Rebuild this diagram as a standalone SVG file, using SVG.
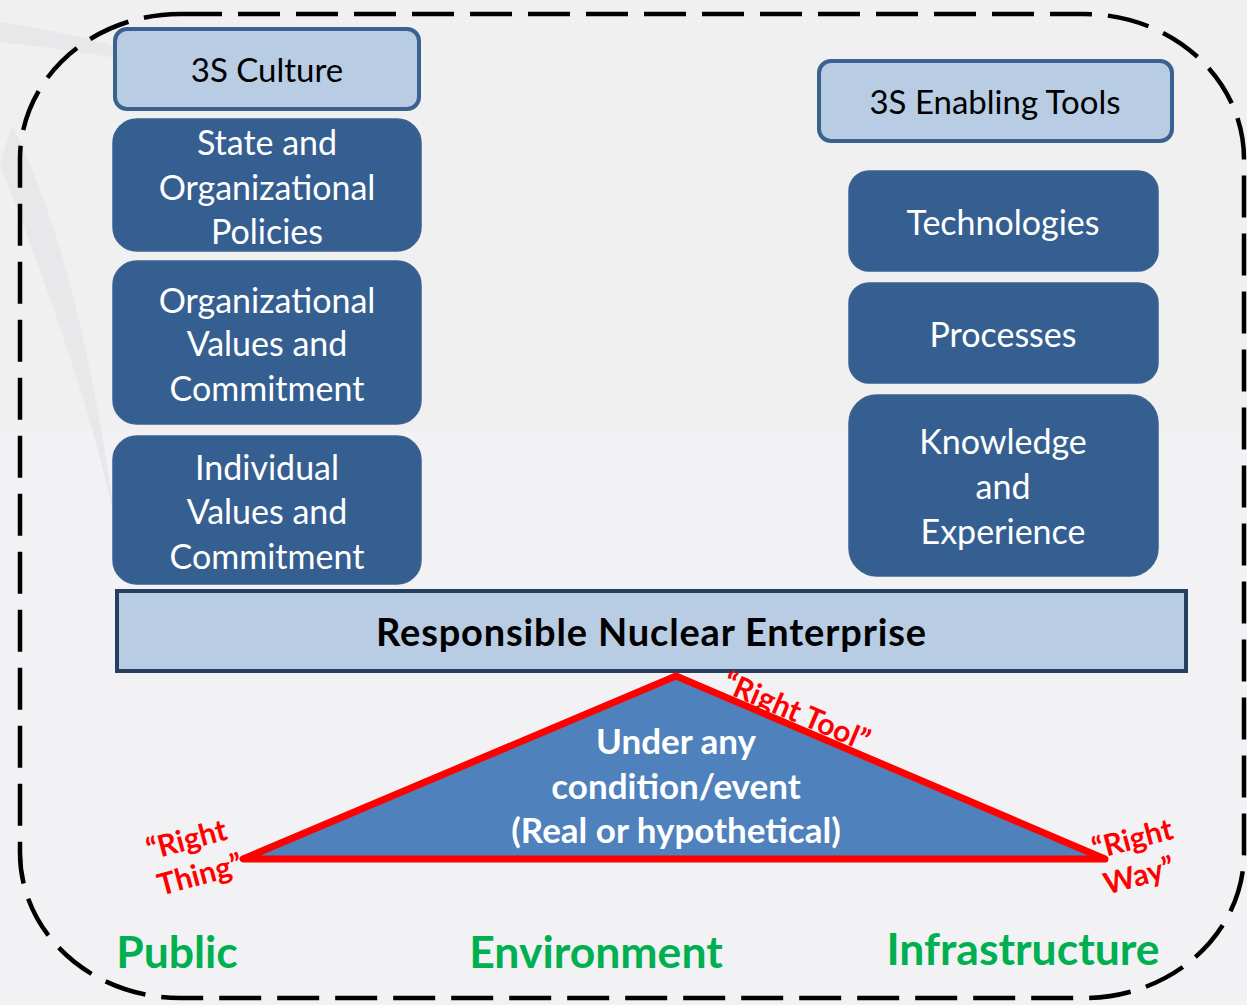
<svg xmlns="http://www.w3.org/2000/svg" width="1247" height="1005" viewBox="0 0 1247 1005">
<defs>
<style>
.t{font-family:Lato,"Open Sans","Liberation Sans",sans-serif;text-anchor:middle;dominant-baseline:central}
.lt{fill:#b8cce4;stroke:#3a6190;stroke-width:4}
.dk{fill:#365f91;stroke:#3a6190;stroke-width:1.5}
.w{fill:#fff;font-size:34px}
.b{fill:#000;font-size:33px}
.tw{fill:#fff;font-size:35px;font-weight:bold}
.red{fill:#ff0000;font-size:30px;font-weight:bold}
.grn{fill:#00b050;font-size:44.5px;font-weight:bold}
</style>
</defs>
<rect width="1247" height="1005" fill="#f0f0f0"/>
<rect y="430" width="1247" height="575" fill="#f2f2f4"/>
<path d="M0 22 Q120 40 190 75 Q140 58 0 42 Z" fill="#e8e8ea"/>
<path d="M12 125 Q80 260 115 520 Q85 380 0 165 Z" fill="#e8e8ea"/>
<rect x="20" y="14" width="1224" height="984" rx="160" ry="145" fill="none" stroke="#000" stroke-width="4.5" stroke-dasharray="42 16"/>
<g id="culture"><rect class="lt" x="115" y="29" width="304" height="80" rx="12"/><text class="t b" x="267" y="69">3S Culture</text></g>
<g id="state"><rect class="dk" x="113" y="119" width="308" height="132" rx="24"/><text class="t w" x="267" y="141">State and</text><text class="t w" x="267" y="186">Organizational</text><text class="t w" x="267" y="230">Policies</text></g>
<g id="orgvalues"><rect class="dk" x="113" y="261" width="308" height="163" rx="24"/><text class="t w" x="267" y="299">Organizational</text><text class="t w" x="267" y="342">Values and</text><text class="t w" x="267" y="387">Commitment</text></g>
<g id="indvalues"><rect class="dk" x="113" y="436" width="308" height="148" rx="24"/><text class="t w" x="267" y="466">Individual</text><text class="t w" x="267" y="510">Values and</text><text class="t w" x="267" y="555">Commitment</text></g>
<g id="tools"><rect class="lt" x="819" y="61" width="353" height="80" rx="12"/><text class="t b" x="995" y="101" font-size="34">3S Enabling Tools</text></g>
<g id="tech"><rect class="dk" x="849" y="171" width="309" height="100" rx="20"/><text class="t w" x="1003" y="221">Technologies</text></g>
<g id="proc"><rect class="dk" x="849" y="283" width="309" height="100" rx="20"/><text class="t w" x="1003" y="333">Processes</text></g>
<g id="know"><rect class="dk" x="849" y="395" width="309" height="181" rx="28"/><text class="t w" x="1003" y="440">Knowledge</text><text class="t w" x="1003" y="485">and</text><text class="t w" x="1003" y="530">Experience</text></g>
<g id="rne"><rect x="117" y="591" width="1069" height="80" fill="#b8cce4" stroke="#243f60" stroke-width="4"/><text class="t" x="651" y="631" font-size="38" font-weight="bold" textLength="550" lengthAdjust="spacing">Responsible Nuclear Enterprise</text></g>
<g id="triangle"><polygon points="676,676 243,859 1105,859" fill="#4f81bd" stroke="#ff0000" stroke-width="7" stroke-linejoin="round"/><text class="t tw" x="676" y="740">Under any</text><text class="t tw" x="676" y="785">condition/event</text><text class="t tw" x="676" y="829">(Real or hypothetical)</text></g>
<g id="labels">
<text class="t red" transform="translate(797 710) rotate(23)">“Right Tool”</text>
<g transform="rotate(-15 193 856)"><text class="t red" x="191" y="837">“Right</text><text class="t red" x="195" y="874">Thing”</text></g>
<g transform="rotate(-15 1136 856)"><text class="t red" x="1137" y="837">“Right</text><text class="t red" x="1134" y="874">Way”</text></g>
<text class="t grn" x="177" y="950">Public</text>
<text class="t grn" x="596" y="950">Environment</text>
<text class="t grn" x="1023" y="947">Infrastructure</text>
</g>
</svg>
